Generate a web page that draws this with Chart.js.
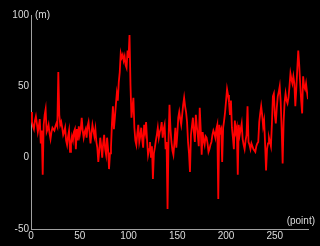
<!DOCTYPE html>
<html lang="en">
<head>
    <meta charset="UTF-8">
    <title>Distance per point</title>
    <style>
        body {
            margin: 0;
            background: #000000;
        }
        #wrap {
            width: 320px;
            height: 246px;
        }
    </style>
</head>
<body>
    <div id="wrap">
        <canvas id="lineChart" width="320" height="246"></canvas>
    </div>
    <script src="https://cdn.jsdelivr.net/npm/chart.js"></script>
    <script>
        // values, one per point (0..284)
        var values = [
            32, 25, 22, 20, 26, 29, 24, 18, 22, 27,
            10, 19, -12, 23, 30, 34, 18, 20, 23, 17,
            13, 18, 21, 20, 19, 22, 24, 22, 60, 30,
            23, 25, 21, 16, 18, 21, 12, 9, 15, 19,
            4, 10, 15, 12, 18, 20, 6, 20, 12, 22,
            16, 20, 28, 19, 14, 18, 20, 14, 22, 25,
            18, 10, 17, 23, 19, 15, 20, 11, 7, -3,
            5, 14, 8, 0, 10, 16, 6, 2, 14, 6,
            -8, 3, 7, 24, 36, 20, 28, 37, 45, 40,
            53, 60, 73, 70, 72, 68, 71, 65, 63, 75,
            70, 86, 51, 28, 35, 42, 21, 12, 9, 17,
            23, 11, 15, 21, 13, 7, 23, 18, 25, 12,
            2, 6, 11, 0, 8, -15, 3, 7, 12, 16,
            21, 14, 18, 20, 25, 14, 20, 23, 6, 11,
            -36, 12, 37, 20, 11, 5, 2, 10, 21, 7,
            16, 28, 32, 27, 23, 30, 37, 42, 36, 32,
            25, 11, 3, -10, 16, 22, 28, 18, 11, 30,
            22, 16, 8, 35, 20, 2, 18, 12, 9, 15,
            14, 10, 4, 6, 9, 11, 16, 19, 17, 14,
            20, 23, -29, 23, 18, 20, -3, 21, 26, 32,
            40, 48, 44, 39, 30, 40, 21, 14, 6, 26,
            18, 21, -12, 23, 16, 20, 24, 13, 9, 6,
            12, 16, 36, 11, 9, 6, 10, 8, 6, 5,
            4, 8, 10, 11, 25, 31, 36, 30, 22, 26,
            10, -9, 6, 10, 14, 11, 8, 24, 43, 45,
            30, 24, 35, 43, 46, 50, 39, 20, -4, 25,
            39, 45, 40, 38, 42, 50, 59, 55, 52, 57,
            52, 36, 48, 62, 75, 65, 52, 40, 31, 57,
            50, 48, 52, 46, 41
        ];
        var points = values.map(function (v, i) { return { x: i, y: v }; });

        var xTicks = [0, 50, 100, 150, 200, 250];
        var yTicks = [-50, 0, 50, 100];
        var xUnit = '(point)';
        var yUnit = '(m)';

        var textColor = '#dcdcdc';
        var axisColor = '#a0a0a0';

        // unit labels next to the axes
        var unitLabels = {
            id: 'unitLabels',
            afterDraw: function (chart) {
                var ctx = chart.ctx;
                var area = chart.chartArea;
                ctx.save();
                ctx.fillStyle = textColor;
                ctx.font = '10px "Liberation Sans", Arial, sans-serif';
                ctx.textBaseline = 'middle';
                ctx.textAlign = 'left';
                ctx.fillText(yUnit, area.left + 4, area.top);
                ctx.textAlign = 'right';
                ctx.fillText(xUnit, 315, area.bottom - 8);
                ctx.restore();
            }
        };

        new Chart(document.getElementById('lineChart'), {
            type: 'line',
            data: {
                datasets: [{
                    data: points,
                    borderColor: '#ff0000',
                    borderWidth: 1.8,
                    pointRadius: 0,
                    tension: 0,
                    fill: false
                }]
            },
            options: {
                responsive: false,
                animation: false,
                devicePixelRatio: 1,
                layout: {
                    padding: { top: 15, right: 12, left: 0, bottom: 0 }
                },
                plugins: {
                    legend: { display: false },
                    tooltip: { enabled: false }
                },
                scales: {
                    x: {
                        type: 'linear',
                        min: 0,
                        max: values.length - 1,
                        afterFit: function (scale) { scale.height = 17; },
                        afterBuildTicks: function (scale) {
                            scale.ticks = xTicks.map(function (v) { return { value: v }; });
                        },
                        grid: { display: false, drawTicks: false },
                        border: { display: true, color: axisColor, width: 1 },
                        ticks: {
                            color: textColor,
                            padding: 1,
                            maxRotation: 0,
                            font: { family: '"Liberation Sans", Arial, sans-serif', size: 10 }
                        }
                    },
                    y: {
                        min: -50,
                        max: 100,
                        afterFit: function (scale) { scale.width = 31; },
                        afterBuildTicks: function (scale) {
                            scale.ticks = yTicks.map(function (v) { return { value: v }; });
                        },
                        grid: { display: false, drawTicks: false },
                        border: { display: true, color: axisColor, width: 1 },
                        ticks: {
                            color: textColor,
                            padding: 2,
                            font: { family: '"Liberation Sans", Arial, sans-serif', size: 10 }
                        }
                    }
                }
            },
            plugins: [unitLabels]
        });
    </script>
</body>
</html>
